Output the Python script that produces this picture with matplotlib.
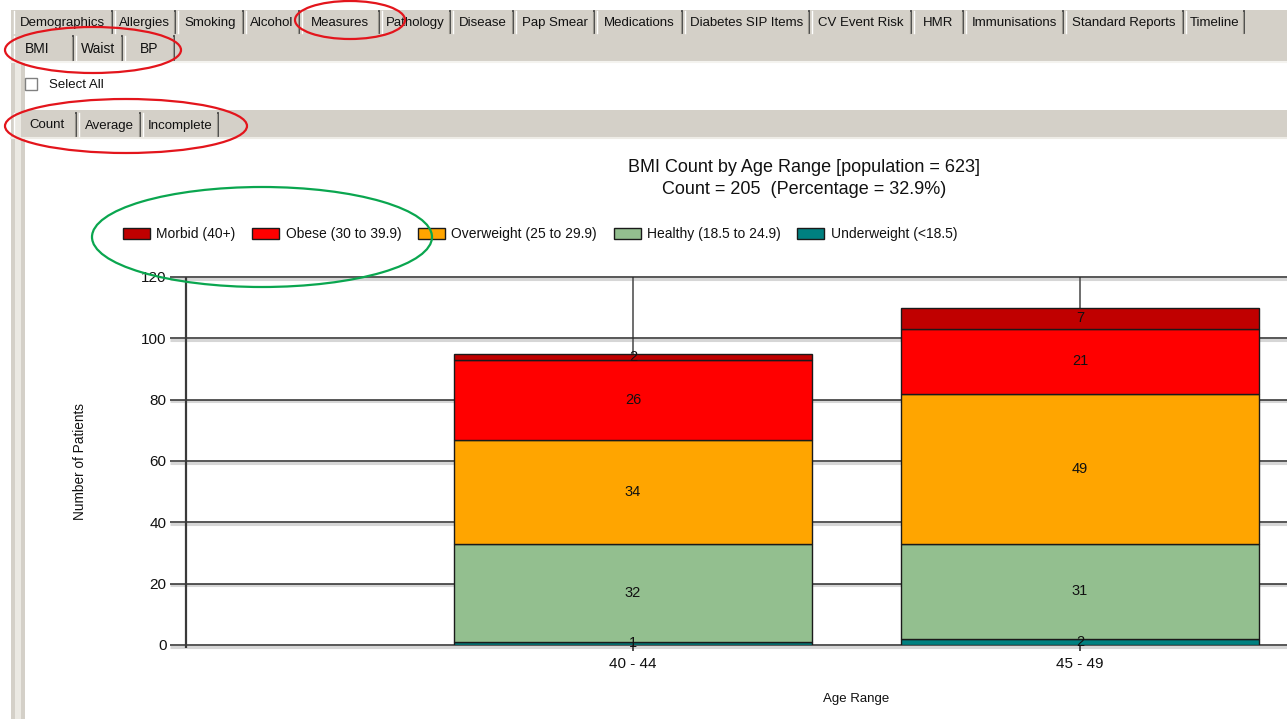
import numpy as np
import matplotlib
matplotlib.use('Agg')
import matplotlib.pyplot as plt
from matplotlib.patches import Rectangle, Ellipse

plt.rcParams['font.family'] = ['Liberation Sans', 'DejaVu Sans']

# chart data
age_ranges = ['40 - 44', '45 - 49']
bmi_classes = ['Morbid (40+)', 'Obese (30 to 39.9)', 'Overweight (25 to 29.9)',
               'Healthy (18.5 to 24.9)', 'Underweight (<18.5)']
underweight = [1, 2]
healthy = [32, 31]
overweight = [34, 49]
obese = [26, 21]
morbid = [2, 7]
colors = ['#c00000', '#ff0000', '#ffa500', '#93bf8f', '#008080']

title_1 = 'BMI Count by Age Range [population = 623]'
title_2 = 'Count = 205  (Percentage = 32.9%)'

# ui text
top_tabs = ['Demographics', 'Allergies', 'Smoking', 'Alcohol', 'Measures', 'Pathology',
            'Disease', 'Pap Smear', 'Medications', 'Diabetes SIP Items', 'CV Event Risk',
            'HMR', 'Immunisations', 'Standard Reports', 'Timeline']
top_edges = [12, 113, 176, 244, 300, 380, 451, 514, 595, 683, 810, 912, 964, 1064, 1184, 1245]
sub_tabs = ['BMI', 'Waist', 'BP']
sub_edges = [12, 74, 123, 175]
view_tabs = ['Count', 'Average', 'Incomplete']
view_edges = [12, 77, 141, 219]

W, H = 1287, 719
fig = plt.figure(figsize=(W / 100, H / 100), dpi=100)
fig.patch.set_facecolor('white')

# background ui layer, pixel coords
bg = fig.add_axes([0, 0, 1, 1], zorder=0)
bg.set_xlim(0, W)
bg.set_ylim(H, 0)
bg.axis('off')

ui_gray = '#d4d0c8'
bg.add_patch(Rectangle((11, 10), W, 52, color=ui_gray, lw=0))
bg.add_patch(Rectangle((11, 110), W, 27, color=ui_gray, lw=0))
bg.plot([11, W], [62, 62], color='#f4f3ef', lw=1.5)
bg.plot([11, W], [138, 138], color='#eeece6', lw=1.5)
bg.add_patch(Rectangle((11, 62), 4, H, color=ui_gray, lw=0))
bg.add_patch(Rectangle((15, 62), 6, H, color='#ebe9e3', lw=0))
bg.add_patch(Rectangle((21, 62), 4, H, color=ui_gray, lw=0))


def draw_tabs(names, edges, y0, y1, size, shift=0):
    for i, name in enumerate(names):
        l, r = edges[i], edges[i + 1]
        bg.plot([l + 1.5, l + 1.5], [y0, y1], color='white', lw=1)
        bg.plot([r - 1, r - 1], [y0, y1], color='#404040', lw=1.3)
        bg.plot([r - 2.5, r - 2.5], [y0 + 1, y1], color='#9a978f', lw=0.8)
        dx = shift if i == 0 else 0
        bg.text((l + r) / 2 + dx, (y0 + y1) / 2 + 1, name, ha='center', va='center',
                fontsize=size, color='#111111')


draw_tabs(top_tabs, top_edges, 11, 33, 9.5)
draw_tabs(sub_tabs, sub_edges, 36, 60, 10, shift=-6)
draw_tabs(view_tabs, view_edges, 113, 136, 9.5, shift=3)

bg.add_patch(Rectangle((25, 78), 12, 12, facecolor='white', edgecolor='#808080', lw=1))
bg.text(49, 84.5, 'Select All', ha='left', va='center', fontsize=9.5, color='#111111')

# chart
ax = fig.add_axes([186 / W, 1 - 645 / H, 1 - 186 / W, (645 - 277) / H], zorder=1)
ax.set_facecolor('none')
x = np.arange(1, len(age_ranges) + 1)
xmax = (W - 186) / 447
ax.set_xlim(0, xmax)
ax.set_ylim(0, 120)
for s in ax.spines.values():
    s.set_visible(False)

yt = np.arange(0, 121, 20)
for y in yt:
    ax.hlines(y - 0.55, -0.036, xmax, color='#d6d6d6', lw=2.2, zorder=1, clip_on=False)
    ax.hlines(y, -0.036, xmax, color='#2a2a2a', lw=1.1, zorder=2, clip_on=False)
ax.vlines(0, -1, 120, color='#3a3a3a', lw=1.6, zorder=2, clip_on=False)
ax.vlines(x, 0, 120, color='#555555', lw=1.2, zorder=1)

series = [underweight, healthy, overweight, obese, morbid]
names = bmi_classes[::-1]
cols = colors[::-1]
bottom = np.zeros(len(age_ranges))
handles = {}
for vals, name, c in zip(series, names, cols):
    bars = ax.bar(x, vals, width=0.8, bottom=bottom, color=c, edgecolor='#1a1a1a',
                  lw=1, zorder=3, label=name)
    ax.bar_label(bars, label_type='center', fontsize=10.5, color='#111111', zorder=4)
    handles[name] = bars
    bottom += np.array(vals)

ax.set_yticks(yt)
ax.tick_params(axis='y', length=0, pad=14, labelsize=11, labelcolor='#111111')
ax.set_xticks(x)
ax.set_xticklabels(age_ranges)
ax.tick_params(axis='x', length=8, direction='inout', width=1.2, color='#333333',
               pad=4.5, labelsize=11, labelcolor='#111111')

leg = ax.legend([handles[n] for n in bmi_classes], bmi_classes, ncol=5,
                loc='center left', bbox_to_anchor=(123 / W, 1 - 234 / H),
                bbox_transform=fig.transFigure, frameon=False, fontsize=10,
                handlelength=1.95, handleheight=0.85, handletextpad=0.45,
                columnspacing=1.2, borderpad=0, borderaxespad=0)
for t in leg.get_texts():
    t.set_color('#111111')

fig.text(804 / W, 1 - 168 / H, title_1, ha='center', va='center', fontsize=13, color='#111111')
fig.text(804 / W, 1 - 189 / H, title_2, ha='center', va='center', fontsize=13, color='#111111')
fig.text(80 / W, 1 - 461 / H, 'Number of Patients', rotation=90, ha='center', va='center',
         fontsize=9.8, color='#111111')
fig.text(856 / W, 1 - 699 / H, 'Age Range', ha='center', va='center', fontsize=9.5, color='#111111')

# annotation ellipses on top
fg = fig.add_axes([0, 0, 1, 1], zorder=5)
fg.set_xlim(0, W)
fg.set_ylim(H, 0)
fg.axis('off')
red = '#e3151c'
fg.add_patch(Ellipse((350, 20), 110, 38, fill=False, edgecolor=red, lw=1.6))
fg.add_patch(Ellipse((93, 50), 176, 46, fill=False, edgecolor=red, lw=1.6))
fg.add_patch(Ellipse((126, 126), 242, 54, fill=False, edgecolor=red, lw=1.6))
fg.add_patch(Ellipse((262, 237), 340, 100, fill=False, edgecolor='#0aa64f', lw=1.6))

fig.savefig('out.png', dpi=100)
